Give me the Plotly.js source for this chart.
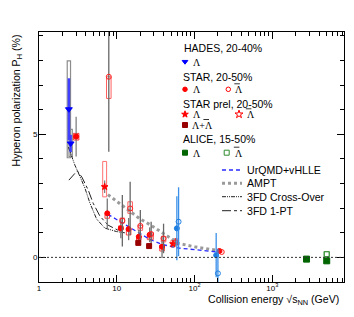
<!DOCTYPE html>
<html><head><meta charset="utf-8">
<script src="https://cdn.plot.ly/plotly-3.0.1.min.js"></script>
<style>html,body{margin:0;padding:0;background:#fff}#chart{width:354px;height:317px}</style>
</head><body><div id="chart"></div>
<script>
// ---------------- data ----------------
// HADES, 20-40% (Lambda)
const hadesE = [2.42, 2.55];
const hadesP = [6.02, 4.63];
const hadesStat = [1.26, 0.35];
const hadesSysLo = [4.05, 4.10];
const hadesSysHi = [7.99, 5.20];

// STAR 3 GeV (Lambda)
const star3E = [3.0];
const star3P = [4.91];
const star3Stat = [0.81];
const star3SysLo = [4.77];
const star3SysHi = [5.04];

// STAR BES-I, 20-50%
const starE = [7.7, 11.5, 14.5, 19.6, 27, 39];
const starLamP = [1.79, 1.18, 1.15, 0.84, 0.92, 0.43];
const starLamStat = [0.60, 0.40, 0.45, 0.28, 0.30, 0.45];
const starLamSysLo = [1.59, 1.11, 0.91, 0.70, 0.72, 0.26];
const starLamSysHi = [1.75, 1.28, 1.18, 0.85, 0.90, 0.50];
const starAlamP = [7.34, 1.49, 1.99, 1.28, 0.95, 0.77];
const starAlamStat = [3.05, 1.05, 1.08, 0.65, 0.50, 0.60];
const starAlamSysLo = [6.46, 1.40, 1.79, 1.10, 0.72, 0.63];
const starAlamSysHi = [7.34, 1.60, 2.26, 1.30, 1.00, 0.84];

// STAR preliminary, 20-50%
const starPrelLamE = [7.2, 54.4];
const starPrelLamP = [2.87, 0.55];
const starPrelLamStat = [0.25, 0.15];
const starPrelLamSysLo = [2.46, 0.42];
const starPrelLamSysHi = [3.90, 0.70];
const starPrelAlamE = [54.4];
const starPrelAlamP = [0.62];
const starPrelAlamStat = [0.15];
const starPrelAlamSysLo = [0.50];
const starPrelAlamSysHi = [0.76];
const starSumE = [19.6, 27];
const starSumP = [0.59, 0.46];
const starSumStat = [0.05, 0.05];

// STAR 200 GeV (2018)
const star200E = [200];
const star200LamP = [0.26];
const star200AlamP = [0.22];
const star200Stat = [0.03];

// STAR 2007 (62.4, 200 GeV)
const star07E = [62.4, 200];
const star07LamP = [1.18, 0.09];
const star07LamStat = [1.30, 0.90];
const star07AlamP = [1.45, -0.65];
const star07AlamStat = [1.40, 1.00];

// ALICE, 15-50%
const aliceLamE = [2760, 5020];
const aliceLamP = [-0.07, -0.14];
const aliceAlamE = [5020];
const aliceAlamP = [0.13];
const aliceSys = 0.07;

// Models
const urqmdE = [7.7, 11.5, 14.5, 19.6, 27, 39, 62.4, 200];
const urqmdP = [1.75, 1.42, 1.22, 0.95, 0.72, 0.52, 0.38, 0.22];
const amptE = [7.7, 11.5, 14.5, 19.6, 27, 39, 62.4, 100, 200];
const amptP = [2.55, 2.12, 1.88, 1.58, 1.32, 1.00, 0.57, 0.43, 0.28];
const fdXoE = [2.39, 2.89, 3.35, 3.89, 4.51, 5.50, 7.02, 9.91, 12.7];
const fdXoP = [4.48, 3.75, 3.30, 2.82, 2.21, 1.56, 1.19, 1.05, 1.00];
const fd1pE = [2.42, 3.10, 3.56, 4.29, 4.97, 6.06, 7.73, 10.3, 11.9];
const fd1pP = [3.14, 3.52, 3.26, 2.74, 2.20, 1.68, 1.31, 1.11, 1.07];

const xTickVals = [1, 10, 100, 1000];
const xTickText = ['1', '10', '10<sup>2</sup>', '10<sup>3</sup>'];

// ---------------- helpers ----------------
const FONT = 'Liberation Sans, Arial, sans-serif';
const SERIF = 'Liberation Serif, serif';
const L = 39, R = 344, T = 32, B = 282;
const PX = p => (p - L) / (R - L);
const PY = p => (B - p) / (B - T);
const shift = (arr, f) => arr.map(v => v * f);

function line(x, y, color, width, dash) {
  return {x, y, type: 'scatter', mode: 'lines', showlegend: false, hoverinfo: 'skip',
          line: {color, width, dash}};
}
function pts(x, y, err, symbol, color, size, errColor, errW, lineColor) {
  const t = {x, y, type: 'scatter', mode: 'markers', showlegend: false,
    marker: {symbol, color, size, line: {color: lineColor || color, width: 1}}};
  if (err) t.error_y = {type: 'data', array: err, visible: true, color: errColor, thickness: errW, width: 0};
  return t;
}
function boxes(E, f, lo, hi, hw, color, width) {
  return E.map((e, i) => ({type: 'rect', xref: 'x', yref: 'y', layer: 'below',
    x0: e * f / hw, x1: e * f * hw, y0: lo[i], y1: hi[i],
    line: {color, width}, fillcolor: 'rgba(0,0,0,0)'}));
}

const traces = [
  line(fdXoE, fdXoP, '#222', 1, '4px,1px,1px,1px,1px,1px'),
  line(fd1pE, fd1pP, '#222', 1, '9px,3px,3px,3px'),
  line(amptE, amptP, '#9a9a9a', 3, '3px,3px'),
  line(urqmdE, urqmdP, '#2a2aff', 1.3, '4px,3px'),
  pts(hadesE, hadesP, hadesStat, 'triangle-down', '#0000ff', 6, '#3f3fff', 2.5),
  pts(star3E, star3P, star3Stat, 'circle', '#ff0000', 5, '#777', 1.2),
  pts(shift(starE, 0.98), starLamP, starLamStat, 'circle', '#ff0000', 5, '#777', 1.3),
  pts(shift(starE, 1.025), starAlamP, starAlamStat, 'circle-open', '#ff2020', 5, '#666', 1.3),
  pts(shift(starPrelLamE, 0.97), starPrelLamP, starPrelLamStat, 'star', '#ff0000', 5, '#777', 1.2),
  pts(shift(starPrelAlamE, 1.05), starPrelAlamP, starPrelAlamStat, 'star-open', '#ff2020', 5, '#777', 1.2),
  pts(shift(starSumE, 0.965), starSumP, starSumStat, 'square', '#990000', 5, '#990000', 1),
  pts(shift(star200E, 1.045), star200LamP, star200Stat, 'circle', '#ff0000', 5, '#ff0000', 1),
  pts(shift(star200E, 1.12), star200AlamP, star200Stat, 'circle-open', '#ff2020', 5, '#ff2020', 1),
  pts(shift(star07E, 0.95), star07LamP, star07LamStat, 'circle', '#1e7fe0', 5, '#3a8fe8', 1.3),
  pts(shift(star07E, 1.0), star07AlamP, star07AlamStat, 'circle-open', '#1e7fe0', 5, '#3a8fe8', 1.3),
  pts(aliceLamE, aliceLamP, null, 'square', '#006400', 6),
  pts(aliceAlamE, aliceAlamP, null, 'square-open', '#2e8b2e', 5),
];

let shapes = [];
shapes = shapes.concat(boxes(hadesE, 1, hadesSysLo, hadesSysHi, 1.05, '#8c8c8c', 1.2));
shapes = shapes.concat(boxes(star3E, 1, star3SysLo, star3SysHi, 1.085, '#ff3030', 1));
shapes = shapes.concat(boxes(starE, 0.98, starLamSysLo, starLamSysHi, 1.07, '#ff4040', 1));
shapes = shapes.concat(boxes(starE, 1.025, starAlamSysLo, starAlamSysHi, 1.07, '#ff6060', 1));
shapes = shapes.concat(boxes(starPrelLamE, 0.97, starPrelLamSysLo, starPrelLamSysHi, 1.06, '#ff7070', 1));
shapes = shapes.concat(boxes(starPrelAlamE, 1.05, starPrelAlamSysLo, starPrelAlamSysHi, 1.06, '#ff7070', 1));
shapes = shapes.concat(boxes(aliceLamE, 1, aliceLamP.map(v => v - aliceSys), aliceLamP.map(v => v + aliceSys), 1.07, '#80c080', 1));
shapes = shapes.concat(boxes(aliceAlamE, 1, aliceAlamP.map(v => v - aliceSys - 0.03), aliceAlamP.map(v => v + aliceSys + 0.03), 1.08, '#80c080', 1.2));
shapes.push({type: 'line', xref: 'paper', yref: 'y', x0: 0, x1: 1, y0: 0, y1: 0,
  line: {color: '#333', width: 1, dash: '2px,2px'}});

// ---------------- legends (manual) ----------------
const annotations = [];
function txt(text, px, py, size, color, family, xanchor) {
  annotations.push({text, x: PX(px), y: PY(py), xref: 'paper', yref: 'paper',
    xanchor: xanchor || 'left', yanchor: 'middle', showarrow: false,
    font: {size, color: color || '#000', family: family || FONT}});
}
function overline(px, py) {
  shapes.push({type: 'line', xref: 'paper', yref: 'paper', x0: PX(px + 0.8), x1: PX(px + 6.4),
    y0: PY(py - 6), y1: PY(py - 6), line: {color: '#000', width: 0.8}});
}
function legMark(px, py, symbol, color, size) {
  traces.push({x: [PX(px)], y: [PY(py)], xaxis: 'x2', yaxis: 'y2', type: 'scatter', mode: 'markers',
    showlegend: false, hoverinfo: 'skip',
    marker: {symbol, color, size, line: {color, width: 1}}});
}

const modelLeg = [
  ['UrQMD+vHLLE', '#2a2aff', 1.3, '4px,3px', 170],
  ['AMPT', '#9a9a9a', 3, '3px,3px', 183.3],
  ['3FD Cross-Over', '#222', 1, '4px,1px,1px,1px,1px,1px', 196.7],
  ['3FD 1-PT', '#222', 1, '9px,3px,3px,3px', 210.7],
];
modelLeg.forEach(m => {
  shapes.push({type: 'line', xref: 'paper', yref: 'paper', x0: PX(222), x1: PX(242), y0: PY(m[4]), y1: PY(m[4]),
    line: {color: m[1], width: m[2], dash: m[3]}});
  txt(m[0], 245, m[4], 10.6);
});

const LB = 'Λ';
txt('HADES, 20-40%', 181.7, 48.3, 10.5);
legMark(185, 61.7, 'triangle-down', '#0000ff', 5);
txt(LB, 190.5, 62.2, 10, '#000', SERIF);

txt('STAR, 20-50%', 180.7, 77.3, 10.5);
legMark(185, 89.3, 'circle', '#ff0000', 4.5);
txt(LB, 190.5, 89.8, 10, '#000', SERIF);
legMark(228.3, 89.3, 'circle-open', '#ff0000', 4.5);
txt(LB, 233.5, 89.8, 10, '#000', SERIF); overline(233.5, 89.8);

txt('STAR prel, 20-50%', 180.7, 104.3, 10.5);
legMark(185, 114.3, 'star', '#ff0000', 5);
txt(LB, 190.5, 114.8, 10, '#000', SERIF);
legMark(239, 114.3, 'star-open', '#ff0000', 6);
txt(LB, 245, 114.8, 10, '#000', SERIF); overline(245, 114.8);
legMark(185, 125, 'square', '#990000', 5);
txt(LB + '+' + LB, 190, 125.5, 10, '#000', SERIF); overline(202.6, 125.5);

txt('ALICE, 15-50%', 180.7, 139.3, 10.5);
legMark(185, 152.7, 'square', '#006400', 5);
txt(LB, 190.5, 153.2, 10, '#000', SERIF);
legMark(226.7, 152.7, 'square-open', '#2e8b2e', 5);
txt(LB, 233, 153.2, 10, '#000', SERIF); overline(233, 153.2);

// axis titles
annotations.push({text: 'Collision energy √s<sub>NN</sub> (GeV)', x: PX(341), y: PY(300), xref: 'paper', yref: 'paper',
  xanchor: 'right', yanchor: 'middle', showarrow: false, font: {size: 10.6, family: FONT, color: '#000'}});
annotations.push({text: 'Hyperon polarization P<sub>H</sub> (%)', x: PX(16.5), y: PY(33), xref: 'paper', yref: 'paper',
  xanchor: 'center', yanchor: 'top', textangle: -90, showarrow: false, font: {size: 10.6, family: FONT, color: '#000'}});

const minorX = [];
for (let d = 1; d <= 1000; d *= 10) for (let k = 2; k <= 9; k++) if (d * k < 8400) minorX.push(d * k);

const layout = {
  width: 354, height: 317,
  margin: {l: L, r: 354 - R, t: T, b: 317 - B, pad: 0},
  paper_bgcolor: '#fff', plot_bgcolor: '#fff',
  font: {family: FONT, size: 8, color: '#000'},
  showlegend: false,
  xaxis: {type: 'log', range: [-0.0005, 3.923], showgrid: false, zeroline: false,
    showline: true, linecolor: '#000', linewidth: 1, mirror: 'ticks',
    ticks: 'inside', ticklen: 7, tickwidth: 1, tickcolor: '#000', ticklabelstandoff: -2,
    tickmode: 'array', tickvals: xTickVals, ticktext: xTickText, tickfont: {size: 8},
    minor: {tickmode: 'array', tickvals: minorX, ticks: 'inside', ticklen: 4, tickcolor: '#000', showgrid: false}},
  yaxis: {range: [-1, 9.16], showgrid: false, zeroline: false,
    showline: true, linecolor: '#000', linewidth: 1, mirror: 'ticks',
    ticks: 'inside', ticklen: 7, tickwidth: 1, tickcolor: '#000', ticklabelstandoff: -1,
    tick0: 0, dtick: 5, tickfont: {size: 8},
    minor: {dtick: 1, tick0: 0, ticks: 'inside', ticklen: 4, tickcolor: '#000', showgrid: false}},
  xaxis2: {overlaying: 'x', range: [0, 1], visible: false, fixedrange: true},
  yaxis2: {overlaying: 'y', range: [0, 1], visible: false, fixedrange: true},
  shapes, annotations,
};

Plotly.newPlot('chart', traces, layout, {staticPlot: true, displayModeBar: false});
</script></body></html>
